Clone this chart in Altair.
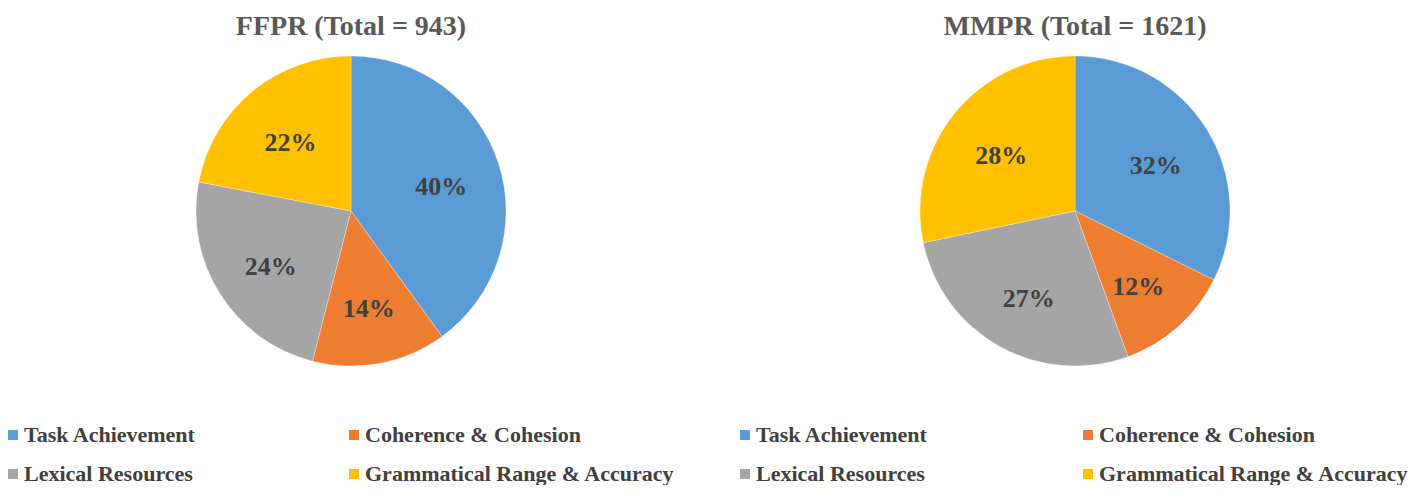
import altair as alt
import pandas as pd

categories = ["Task Achievement", "Coherence & Cohesion", "Lexical Resources",
              "Grammatical Range & Accuracy"]
colors = ["#5B9BD5", "#ED7D31", "#A5A5A5", "#FFC000"]
ffpr_pct = [40, 14, 24, 22]
mmpr_pct = [32, 12, 27, 28]
titles = ["FFPR (Total = 943)", "MMPR (Total = 1621)"]

FONT = "Liberation Serif"
W, H = 1402, 477
R = 155


def pie(vals, title, cx, cy, legend_x, col_pad):
    df = pd.DataFrame({
        "cat": categories,
        "pct": vals,
        "order": list(range(len(categories))),
        "label": [f"{v}%" for v in vals],
    })
    base = alt.Chart(df).encode(
        theta=alt.Theta("pct:Q", stack=True),
        order=alt.Order("order:Q"),
    )
    arc = base.mark_arc(outerRadius=R, stroke="white", strokeWidth=0.3).encode(
        x=alt.value(cx),
        y=alt.value(cy),
        color=alt.Color(
            "cat:N",
            scale=alt.Scale(domain=categories, range=colors),
            title=None,
            legend=alt.Legend(
                orient="none",
                legendX=legend_x,
                legendY=416,
                columns=2,
                direction="horizontal",
                columnPadding=col_pad,
                rowPadding=17,
                padding=0,
                symbolType="square",
                symbolSize=100,
                symbolStrokeWidth=0,
                labelFont=FONT,
                labelFontSize=22,
                labelFontWeight="bold",
                labelColor="#404040",
                labelOffset=0,
                labelLimit=500,
            ),
        ),
    )
    txt = base.mark_text(radius=95, dy=5, font=FONT, fontSize=26, fontWeight="bold",
                         color="#404040").encode(
        x=alt.value(cx),
        y=alt.value(cy),
        text="label:N",
    )
    tdf = pd.DataFrame({"t": [title]})
    ttl = alt.Chart(tdf).mark_text(font=FONT, fontSize=28, fontWeight="bold",
                                   color="#595959", baseline="alphabetic").encode(
        x=alt.value(cx),
        y=alt.value(27),
        text="t:N",
    )
    return alt.layer(arc, txt, ttl)


p1 = pie(ffpr_pct, titles[0], 343, 203, -6, 146)
p2 = pie(mmpr_pct, titles[1], 1067, 203, 726, 148)

chart = alt.layer(p1, p2).resolve_scale(
    color="independent", theta="independent"
).properties(
    width=W, height=H, padding=0, autosize=alt.AutoSizeParams(type="none")
).configure_view(stroke=None)

chart.save("out.html", embed_options={"renderer": "svg", "actions": False})
